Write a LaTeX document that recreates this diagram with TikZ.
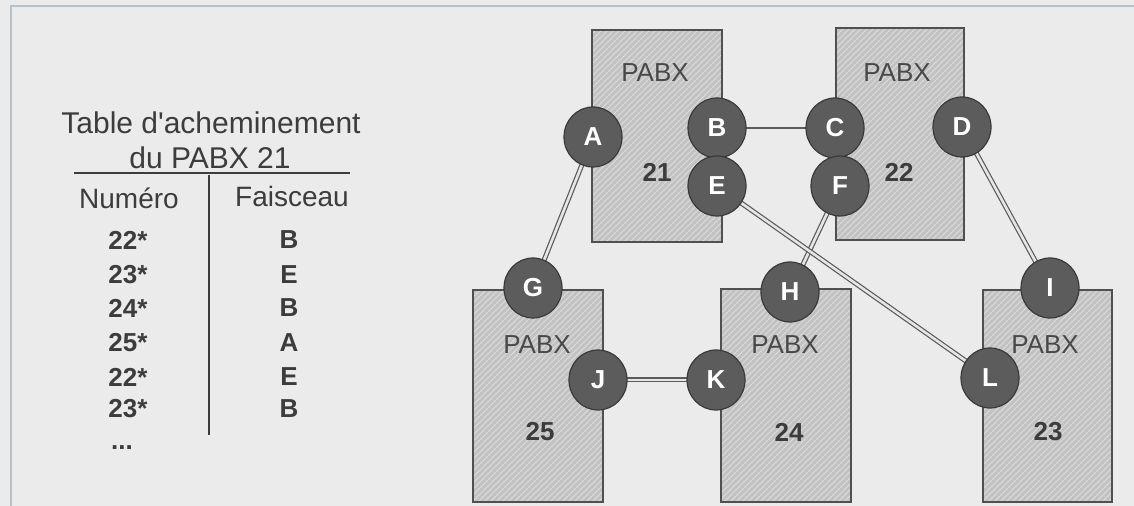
\documentclass[tikz,border=0pt]{standalone}
\usepackage{fontspec}
\setmainfont{Liberation Sans}
\usetikzlibrary{shapes.geometric,patterns}
\definecolor{bgc}{HTML}{EBEBEB}
\definecolor{txt}{HTML}{3C3C3C}
\definecolor{boxfill}{HTML}{C2C2C2}
\definecolor{hatch}{HTML}{DCDCDC}
\definecolor{boxline}{HTML}{505050}
\definecolor{ballfill}{HTML}{5C5C5C}
\definecolor{ballline}{HTML}{3A3A3A}
\definecolor{linkc}{HTML}{5A5A5A}
\definecolor{framec}{HTML}{B4C0CA}
\pgfdeclarelayer{backdrop}
\pgfdeclarelayer{rects}
\pgfdeclarelayer{links}
\pgfsetlayers{backdrop,rects,links,main}
\tikzset{
  pabx/.style={draw=boxline, line width=0.7pt,
    preaction={fill=boxfill},
    preaction={pattern=north east lines, pattern color=hatch},
    inner sep=0pt},
  port/.style={ellipse, fill=ballfill, draw=ballline, line width=0.6pt,
    minimum width=29pt, minimum height=30pt, inner sep=0pt,
    text=white, font=\fontsize{13}{13}\selectfont\bfseries},
  plabel/.style={text=boxline!90!black, font=\fontsize{13}{13}\selectfont},
  pnum/.style={text=txt, font=\fontsize{13}{13}\selectfont\bfseries},
  tabtxt/.style={text=txt, font=\fontsize{15}{15}\selectfont},
  headtxt/.style={text=txt, font=\fontsize{14}{14}\selectfont},
  rowtxt/.style={text=txt, font=\fontsize{13}{13}\selectfont\bfseries},
  dlink/.style={draw=linkc, line width=0.6pt, double=hatch!70!white, double distance=1.3pt},
  slink/.style={draw=linkc, line width=1pt}
}
\begin{document}
\begin{tikzpicture}[x=0.5pt,y=-0.5pt]
\useasboundingbox (0,0) rectangle (1134,506);
\begin{pgfonlayer}{backdrop}
\fill[bgc] (0,0) rectangle (1134,506);
\draw[framec, line width=0.8pt] (11,506) -- (11,6) -- (1134,6);
\end{pgfonlayer}

% PABX boxes
\begin{pgfonlayer}{rects}
\node[pabx, minimum width=65pt, minimum height=106pt] (p21) at (657,136) {};
\node[pabx, minimum width=64pt, minimum height=106pt] (p22) at (900,134) {};
\node[pabx, minimum width=65pt, minimum height=106pt] (p25) at (538,396) {};
\node[pabx, minimum width=65pt, minimum height=106.5pt] (p24) at (786,395.5) {};
\node[pabx, minimum width=64.5pt, minimum height=106pt] (p23) at (1047.5,396) {};
\end{pgfonlayer}

\node[plabel] (l21) at (655,73) {PABX};
\node[pnum] (n21) at (657,172) {21};
\node[plabel] (l22) at (897,73) {PABX};
\node[pnum] (n22) at (899,172) {22};
\node[plabel] (l25) at (537,345) {PABX};
\node[pnum] (n25) at (540,432) {25};
\node[plabel] (l24) at (785,345) {PABX};
\node[pnum] (n24) at (789,432) {24};
\node[plabel] (l23) at (1045,345) {PABX};
\node[pnum] (n23) at (1048,432) {23};

% ports
\node[port] (A) at (593,137) {A};
\node[port] (B) at (717,128) {B};
\node[port] (C) at (835,128) {C};
\node[port] (D) at (962,127) {D};
\node[port] (E) at (717,186) {E};
\node[port] (F) at (840,186) {F};
\node[port] (G) at (533,288) {G};
\node[port] (H) at (790,292) {H};
\node[port] (I) at (1050,288) {I};
\node[port] (J) at (598,380) {J};
\node[port] (K) at (716,380) {K};
\node[port] (L) at (990,378) {L};

% links
\begin{pgfonlayer}{links}
\draw[slink] (B.center) -- (C.center);
\draw[dlink] (A.center) -- (G.center);
\draw[dlink] (D.center) -- (I.center);
\draw[dlink] (F.center) -- (H.center);
\draw[dlink] (E.center) -- (L.center);
\draw[dlink] (J.center) -- (K.center);
\end{pgfonlayer}

% routing table
\node[tabtxt] (t1) at (211,123) {Table d\textquotesingle acheminement};
\node[tabtxt] (t2) at (210,158) {du PABX 21};
\coordinate (hl) at (74,173);
\coordinate (hr) at (350,173);
\coordinate (vt) at (209,175);
\coordinate (vb) at (209,435);
\draw[txt, line width=0.7pt] (hl) -- (hr);
\draw[txt, line width=0.9pt] (vt) -- (vb);
\node[headtxt] (hnum) at (129,198) {Numéro};
\node[headtxt] (hfai) at (292,196) {Faisceau};
\node[rowtxt] (r1n) at (128,240) {22*};
\node[rowtxt] (r1f) at (289,240) {B};
\node[rowtxt] (r2n) at (128,275) {23*};
\node[rowtxt] (r2f) at (289,275) {E};
\node[rowtxt] (r3n) at (128,308) {24*};
\node[rowtxt] (r3f) at (289,308) {B};
\node[rowtxt] (r4n) at (128,343) {25*};
\node[rowtxt] (r4f) at (289,343) {A};
\node[rowtxt] (r5n) at (128,377) {22*};
\node[rowtxt] (r5f) at (289,377) {E};
\node[rowtxt] (r6n) at (128,409) {23*};
\node[rowtxt] (r6f) at (289,409) {B};
\node[rowtxt] (dots) at (122,448) {...};
\end{tikzpicture}
\end{document}
